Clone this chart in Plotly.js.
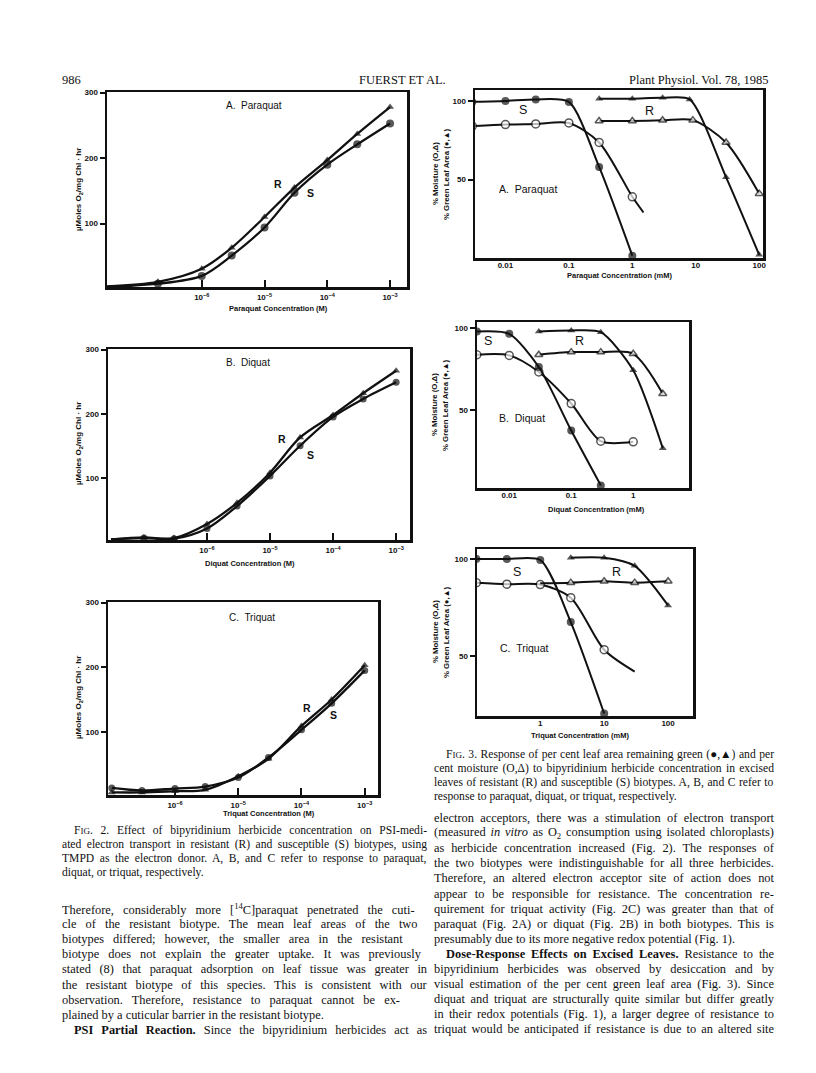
<!DOCTYPE html>
<html><head><meta charset="utf-8">
<script src="https://cdn.plot.ly/plotly-3.0.1.min.js"></script>
<style>html,body{margin:0;padding:0;background:#fff}</style>
</head><body><div id="chart" style="width:816px;height:1073px"></div>
<script>
// ---------- Fig. 2 data (electron transport, µmoles O2/mg Chl·hr) ----------
const paraquatConcM = [3e-8, 2e-7, 1e-6, 3e-6, 1e-5, 3e-5, 1e-4, 3e-4, 1e-3];
const paraquatRateR = [4, 11, 31, 63, 110, 155, 197, 237, 278];
const paraquatRateS = [3, 8, 20, 51, 94, 147, 190, 221, 253];
const diquatConcM = [3e-8, 1e-7, 3e-7, 1e-6, 3e-6, 1e-5, 3e-5, 1e-4, 3e-4, 1e-3];
const diquatRateR = [4, 7, 6, 28, 61, 108, 163, 198, 232, 267];
const diquatRateS = [4, 6, 5, 21, 56, 103, 150, 195, 223, 249];
const triquatConcM = [1e-7, 3e-7, 1e-6, 3e-6, 1e-5, 3e-5, 1e-4, 3e-4, 1e-3];
const triquatRateR = [6, 6, 8, 10, 31, 58, 109, 150, 203];
const triquatRateS = [13, 9, 12, 15, 29, 60, 103, 144, 195];
const fig2TickVals = [1e-6, 1e-5, 1e-4, 1e-3];
const fig2TickText = ['10<sup>−6</sup>', '10<sup>−5</sup>', '10<sup>−4</sup>', '10<sup>−3</sup>'];
const fig2YTicks = [100, 200, 300];

// ---------- Fig. 3 data (% green leaf area, % moisture) ----------
const pqS_leafConc = [0.003, 0.01, 0.03, 0.1, 0.3, 1];
const pqS_leaf = [99.4, 100, 101, 99.4, 58, 1.5];
const pqS_moistConc = [0.003, 0.01, 0.03, 0.1, 0.3, 1, 1.5];
const pqS_moist = [84, 85, 85.4, 86, 73.6, 39, 29];
const pqR_leafConc = [0.3, 1, 3, 8, 30, 100];
const pqR_leaf = [101.5, 101.5, 102, 101, 51.5, 2];
const pqR_moistConc = [0.3, 1, 3, 9, 30, 100];
const pqR_moist = [87.3, 87.3, 87.7, 87.8, 73.6, 41];

const dqS_leafConc = [0.003, 0.01, 0.03, 0.1, 0.3];
const dqS_leaf = [98, 96.6, 76.3, 37.5, 4];
const dqS_moistConc = [0.003, 0.01, 0.03, 0.1, 0.3, 1];
const dqS_moist = [83.8, 83.4, 73.3, 54, 31, 30.6];
const dqR_leafConc = [0.03, 0.1, 0.3, 1, 3];
const dqR_leaf = [98, 98.6, 97.6, 74.3, 26.7];
const dqR_moistConc = [0.03, 0.1, 0.3, 1, 3];
const dqR_moist = [83.8, 85.4, 85.4, 84.4, 60];

const tqS_leafConc = [0.1, 0.3, 1, 3, 10];
const tqS_leaf = [100, 100, 99.5, 67.4, 20.1];
const tqS_moistConc = [0.1, 0.3, 1, 3, 10, 30];
const tqS_moist = [87.8, 87, 86.8, 80, 53.1, 41.8];
const tqR_leafConc = [3, 10, 30, 100];
const tqR_leaf = [100.7, 100.7, 96.5, 76];
const tqR_moistConc = [1, 3, 10, 30, 100];
const tqR_moist = [87.5, 87.8, 88.5, 87.8, 88.5];

const fig3YTicks = [50, 100];

// ---------- text ----------
const headerLeft = '986';
const headerCenter = 'FUERST ET AL.';
const headerRight = 'Plant Physiol. Vol. 78, 1985';

const fig2Caption = [
  'F<span style="font-size:9px">IG</span>. 2. Effect of bipyridinium herbicide concentration on PSI-medi-',
  'ated electron transport in resistant (R) and susceptible (S) biotypes, using',
  'TMPD as the electron donor. A, B, and C refer to response to paraquat,',
  'diquat, or triquat, respectively.'
];
const leftBody = [
  'Therefore, considerably more [<sup>14</sup>C]paraquat penetrated the cuti-',
  'cle of the resistant biotype. The mean leaf areas of the two',
  'biotypes differed; however, the smaller area in the resistant',
  'biotype does not explain the greater uptake. It was previously',
  'stated (8) that paraquat adsorption on leaf tissue was greater in',
  'the resistant biotype of this species. This is consistent with our',
  'observation. Therefore, resistance to paraquat cannot be ex-',
  'plained by a cuticular barrier in the resistant biotype.',
  '<b>PSI Partial Reaction.</b> Since the bipyridinium herbicides act as'
];
const fig3Caption = [
  'F<span style="font-size:9px">IG</span>. 3. Response of per cent leaf area remaining green (●,▲) and per',
  'cent moisture (O,Δ) to bipyridinium herbicide concentration in excised',
  'leaves of resistant (R) and susceptible (S) biotypes. A, B, and C refer to',
  'response to paraquat, diquat, or triquat, respectively.'
];
const rightBody = [
  'electron acceptors, there was a stimulation of electron transport',
  '(measured <i>in vitro</i> as O<sub>2</sub> consumption using isolated chloroplasts)',
  'as herbicide concentration increased (Fig. 2). The responses of',
  'the two biotypes were indistinguishable for all three herbicides.',
  'Therefore, an altered electron acceptor site of action does not',
  'appear to be responsible for resistance. The concentration re-',
  'quirement for triquat activity (Fig. 2C) was greater than that of',
  'paraquat (Fig. 2A) or diquat (Fig. 2B) in both biotypes. This is',
  'presumably due to its more negative redox potential (Fig. 1).',
  '<b>Dose-Response Effects on Excised Leaves.</b> Resistance to the',
  'bipyridinium herbicides was observed by desiccation and by',
  'visual estimation of the per cent green leaf area (Fig. 3). Since',
  'diquat and triquat are structurally quite similar but differ greatly',
  'in their redox potentials (Fig. 1), a larger degree of resistance to',
  'triquat would be anticipated if resistance is due to an altered site'
];

// ---------- layout helpers ----------
const W = 816, H = 1073;
const SANS = 'Liberation Sans, Arial, sans-serif';
const SERIF = 'Liberation Serif, Times New Roman, serif';
const INK = '#111';
const px = x => x / W, py = y => 1 - y / H;

const layout = {
  width: W, height: H, margin: {l: 0, r: 0, t: 0, b: 0},
  paper_bgcolor: '#fff', plot_bgcolor: '#fff', showlegend: false,
  annotations: [], hovermode: false
};
const data = [];

const panels = [
  {box: [107, 407, 92, 287], xr: [-7.51, -2.73], yr: [3, 301], fig: 2, tv: fig2TickVals, tt: fig2TickText, yt: fig2YTicks},
  {box: [108, 410, 349, 540], xr: [-7.57, -2.78], yr: [3, 301], fig: 2, tv: fig2TickVals, tt: fig2TickText, yt: fig2YTicks},
  {box: [108, 378, 602, 795], xr: [-7.06, -2.79], yr: [2, 301], fig: 2, tv: fig2TickVals, tt: fig2TickText, yt: fig2YTicks},
  {box: [475, 763, 90, 258], xr: [-2.48, 2.06], yr: [0, 107], fig: 3, tv: [0.01, 0.1, 1, 10, 100], tt: ['0.01', '0.1', '1', '10', '100'], yt: fig3YTicks},
  {box: [477, 689, 322, 488], xr: [-2.52, 0.90], yr: [2.4, 103.8], fig: 3, tv: [0.01, 0.1, 1], tt: ['0.01', '0.1', '1'], yt: fig3YTicks},
  {box: [477, 693, 549, 716], xr: [-0.99, 2.39], yr: [18.8, 105.2], fig: 3, tv: [1, 10, 100], tt: ['1', '10', '100'], yt: fig3YTicks}
];

panels.forEach((p, k) => {
  const s = k === 0 ? '' : String(k + 1);
  const tickfont = {family: SANS, size: 8, weight: 'bold', color: INK};
  layout['xaxis' + s] = {
    type: 'log', domain: [px(p.box[0]), px(p.box[1])], range: p.xr, anchor: 'y' + s,
    showline: true, mirror: true, linecolor: INK, linewidth: 2.5,
    showgrid: false, zeroline: false,
    ticks: p.fig === 2 ? 'inside' : '', ticklen: 7, tickwidth: 2, tickcolor: INK,
    tickmode: 'array', tickvals: p.tv, ticktext: p.tt, tickfont: tickfont,
    ticklabelstandoff: p.fig === 2 ? 1 : -2
  };
  layout['yaxis' + s] = {
    domain: [py(p.box[3]), py(p.box[2])], range: p.yr, anchor: 'x' + s,
    showline: true, mirror: true, linecolor: INK, linewidth: 2.5,
    showgrid: false, zeroline: false,
    ticks: 'outside', ticklen: 5, tickwidth: 2, tickcolor: INK,
    tickmode: 'array', tickvals: p.yt, ticktext: p.yt.map(String), tickfont: tickfont
  };
});

function series(k, x, y, symbol, opts) {
  opts = opts || {};
  const s = k === 0 ? '' : String(k + 1);
  const size = opts.size || 7;
  const sizes = x.map((v, i) => ((opts.hideFirst && i === 0) || (opts.hideLast && i === x.length - 1)) ? 0 : size);
  data.push({
    type: 'scatter', mode: 'lines+markers', x: x, y: y, xaxis: 'x' + s, yaxis: 'y' + s,
    line: {color: INK, width: opts.lw || 2, shape: 'spline', smoothing: opts.smooth || 0.9},
    marker: {symbol: symbol, size: sizes, color: opts.open ? '#fff' : INK,
             line: {color: INK, width: opts.open ? 1.5 : 0}},
    cliponaxis: true
  });
}

// Fig. 2
series(0, paraquatConcM, paraquatRateS, 'circle', {size: 8, hideFirst: true, lw: 2.3});
series(0, paraquatConcM, paraquatRateR, 'triangle-up', {size: 7, hideFirst: true, lw: 2.3});
series(1, diquatConcM, diquatRateS, 'circle', {size: 7, hideFirst: true, lw: 2.3});
series(1, diquatConcM, diquatRateR, 'triangle-up', {size: 7, hideFirst: true, lw: 2.3});
series(2, triquatConcM, triquatRateS, 'circle', {size: 7, lw: 2.3});
series(2, triquatConcM, triquatRateR, 'triangle-up', {size: 7, lw: 2.3});
// Fig. 3
series(3, pqS_moistConc, pqS_moist, 'circle', {size: 8, open: true, hideLast: true, smooth: 0.8});
series(3, pqS_leafConc, pqS_leaf, 'circle', {size: 8, smooth: 0.7});
series(3, pqR_moistConc, pqR_moist, 'triangle-up', {size: 7, open: true, smooth: 0.8});
series(3, pqR_leafConc, pqR_leaf, 'triangle-up', {size: 7, smooth: 0.7});
series(4, dqS_moistConc, dqS_moist, 'circle', {size: 8, open: true, smooth: 0.8});
series(4, dqS_leafConc, dqS_leaf, 'circle', {size: 8, smooth: 0.7});
series(4, dqR_moistConc, dqR_moist, 'triangle-up', {size: 7, open: true, smooth: 0.8});
series(4, dqR_leafConc, dqR_leaf, 'triangle-up', {size: 7, smooth: 0.7});
series(5, tqS_moistConc, tqS_moist, 'circle', {size: 8, open: true, hideLast: true, smooth: 0.8});
series(5, tqS_leafConc, tqS_leaf, 'circle', {size: 8, smooth: 0.7});
series(5, tqR_moistConc, tqR_moist, 'triangle-up', {size: 7, open: true, hideFirst: true, smooth: 0.8});
series(5, tqR_leafConc, tqR_leaf, 'triangle-up', {size: 7, smooth: 0.7});

function ann(x, y, text, o) {
  o = o || {};
  layout.annotations.push({
    xref: 'paper', yref: 'paper', x: px(x), y: py(y), text: text, showarrow: false,
    xanchor: o.xa || 'center', yanchor: o.ya || 'middle', textangle: o.angle || 0,
    font: {family: o.family || SANS, size: o.size || 8, color: o.color || INK, weight: o.weight || 'normal'}
  });
}

// panel labels
ann(224, 105, 'A.  Paraquat', {xa: 'left', size: 10});
ann(224, 362, 'B.  Diquat', {xa: 'left', size: 10});
ann(227, 617, 'C.  Triquat', {xa: 'left', size: 10});
ann(497, 189, 'A.  Paraquat', {xa: 'left', size: 10.5});
ann(497, 418, 'B.  Diquat', {xa: 'left', size: 10.5});
ann(498, 648, 'C.  Triquat', {xa: 'left', size: 10.5});
// R / S labels
[[278, 184, 'R'], [310, 193, 'S'], [282, 439, 'R'], [310, 455, 'S'], [307, 708, 'R'], [333, 715, 'S']]
  .forEach(a => ann(a[0], a[1], a[2], {size: 10.5, weight: 'bold'}));
[[523, 110, 'S'], [649, 111, 'R'], [488, 341, 'S'], [579, 341, 'R'], [517, 572, 'S'], [616, 572, 'R']]
  .forEach(a => ann(a[0], a[1], a[2], {size: 12.5}));
// axis titles
ann(278, 308, 'Paraquat Concentration (M)', {size: 7.5, weight: 'bold'});
ann(250, 563, 'Diquat Concentration (M)', {size: 7.5, weight: 'bold'});
ann(269, 813, 'Triquat Concentration (M)', {size: 7.5, weight: 'bold'});
ann(620, 275, 'Paraquat Concentration (mM)', {size: 7.5, weight: 'bold'});
ann(596, 509, 'Diquat Concentration (mM)', {size: 7.5, weight: 'bold'});
ann(580, 735, 'Triquat Concentration (mM)', {size: 7.5, weight: 'bold'});
[190, 444, 698].forEach(y => ann(79, y, 'µMoles O<sub>2</sub>/mg Chl · hr', {size: 8, weight: 'bold', angle: -90}));
[174, 405, 632].forEach(y => {
  ann(435, y, '% Moisture (O,Δ)', {size: 7.8, weight: 'bold', angle: -90});
  ann(446, y, '% Green Leaf Area (●,▲)', {size: 7.8, weight: 'bold', angle: -90});
});

// header
ann(60, 80, headerLeft, {xa: 'left', family: SERIF, size: 12.5});
ann(402, 80, headerCenter, {family: SERIF, size: 12.5});
ann(771, 80, headerRight, {xa: 'right', family: SERIF, size: 12.5});

// justified text blocks
const cv = document.createElement('canvas').getContext('2d');
function measureRich(str, size) {
  let bold = false, ital = false, scale = 1, w = 0, spaces = 0;
  const stack = [];
  const re = /<(\/?)(b|i|sup|sub|span)([^>]*)>|([^<]+)/g;
  let m;
  while ((m = re.exec(str))) {
    if (m[4] !== undefined) {
      cv.font = (ital ? 'italic ' : '') + (bold ? 'bold ' : '') + (size * scale) + 'px "Liberation Serif"';
      w += cv.measureText(m[4]).width;
      spaces += (m[4].match(/ /g) || []).length;
    } else {
      const close = m[1] === '/', tag = m[2];
      if (tag === 'b') bold = !close;
      else if (tag === 'i') ital = !close;
      else if (tag === 'sup' || tag === 'sub') scale = close ? 1 : 0.7;
      else if (tag === 'span') {
        if (!close) { stack.push(scale); const f = /font-size:\s*([\d.]+)px/.exec(m[3]); if (f) scale = parseFloat(f[1]) / size; }
        else scale = stack.length ? stack.pop() : 1;
      }
    }
  }
  return {w: w, spaces: spaces};
}
function block(lines, x0, x1, y0, lh, size, indentFirst, lastJustified) {
  lines.forEach((ln, i) => {
    const ind = (i === 0 && indentFirst) ? 12 : 0;
    let text = ln;
    const justify = i < lines.length - 1 || lastJustified;
    if (justify) {
      const r = measureRich(ln, size);
      let ws = r.spaces ? (x1 - x0 - ind - r.w) / r.spaces : 0;
      ws = Math.max(-1, Math.min(6, ws));
      text = '<span style="word-spacing:' + ws.toFixed(2) + 'px;font-size:' + size + 'px">' + ln + '</span>';
    }
    ann(x0 + ind, y0 + i * lh, text, {xa: 'left', family: SERIF, size: size});
  });
}
block(fig2Caption, 60, 425, 830, 14.3, 11.6, true, false);
block(leftBody.slice(0, 8), 60, 425, 909, 15.1, 12.4, false, false);
block(leftBody.slice(8), 60, 425, 909 + 8 * 15.1, 15.1, 12.4, true, true);
block(fig3Caption, 432, 772, 754, 14.3, 11.6, true, false);
block(rightBody.slice(0, 9), 432, 772, 818, 15.1, 12.4, false, false);
block(rightBody.slice(9), 432, 772, 818 + 9 * 15.1, 15.1, 12.4, true, true);

Plotly.newPlot('chart', data, layout, {staticPlot: true, displayModeBar: false});
</script>
</body></html>
